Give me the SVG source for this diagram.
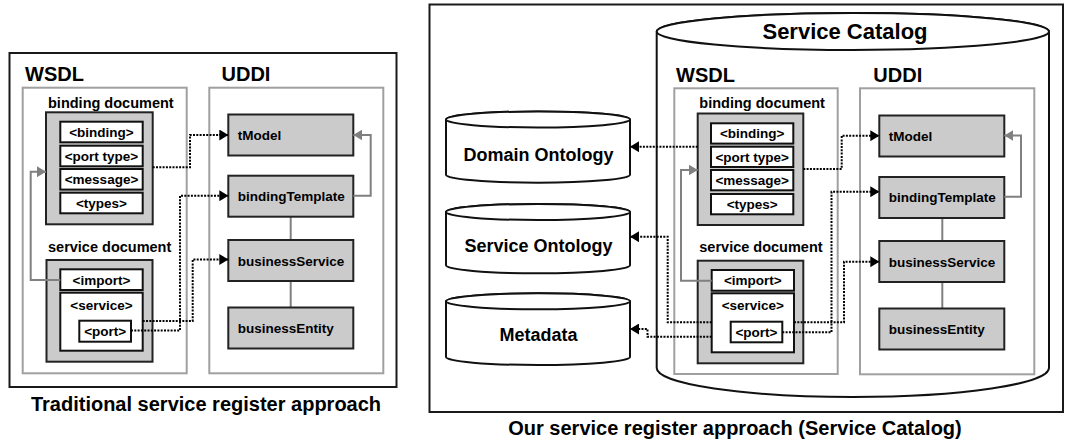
<svg xmlns="http://www.w3.org/2000/svg" width="1065" height="444" viewBox="0 0 1065 444">
<defs>
<style>
text{font-family:"Liberation Sans",Arial,sans-serif;font-weight:bold;fill:#000}
.t20{font-size:20px}
.t22{font-size:22px}
.t18{font-size:18px}
.t145{font-size:14.5px}
.t135{font-size:13.5px}
.mid{text-anchor:middle}
.frame{fill:none;stroke:#1a1a1a;stroke-width:2}
.grp{fill:none;stroke:#a0a0a0;stroke-width:2}
.doc{fill:#cbcbcb;stroke:#222;stroke-width:2}
.item{fill:#fff;stroke:#111;stroke-width:2}
.ud{fill:#cbcbcb;stroke:#222;stroke-width:2}
.cyl{fill:#fff;stroke:#111;stroke-width:2}
.dot{fill:none;stroke:#000;stroke-width:2;stroke-dasharray:2 1.3;marker-end:url(#ab)}
.gl{fill:none;stroke:#808080;stroke-width:2}
.ga{marker-end:url(#ag)}
</style>
<marker id="ab" markerUnits="userSpaceOnUse" markerWidth="9" markerHeight="11" refX="9" refY="5.5" orient="auto"><path d="M0,0 L9,5.5 L0,11 z" fill="#000"/></marker>
<marker id="ag" markerUnits="userSpaceOnUse" markerWidth="9" markerHeight="11" refX="9" refY="5.5" orient="auto"><path d="M0,0 L9,5.5 L0,11 z" fill="#808080"/></marker>
</defs>

<!-- LEFT PANEL -->
<g id="left-panel">
<rect class="frame" x="9.5" y="53" width="387" height="334"/>
<text class="t20" x="206" y="411" text-anchor="middle">Traditional service register approach</text>
</g>

<g id="wsdl-left">
<rect class="grp" x="22.7" y="87.7" width="164" height="285.6"/>
<text class="t20" x="25" y="80.5">WSDL</text>
</g>
<g id="uddi-left">
<rect class="grp" x="209.3" y="87.7" width="174" height="285.6"/>
<text class="t20" x="221.5" y="80.5">UDDI</text>
</g>

<g id="binding-doc-left">
<text class="t145" x="48" y="108">binding document</text>
<rect class="doc" x="46" y="112.3" width="106.7" height="112"/>
<rect class="item" x="60.3" y="121.7" width="82.4" height="20.6"/>
<text class="t135 mid" x="101.5" y="136.7">&lt;binding&gt;</text>
<rect class="item" x="60.3" y="145.7" width="82.4" height="20.6"/>
<text class="t135 mid" x="101.5" y="160.7">&lt;port type&gt;</text>
<rect class="item" x="60.3" y="169" width="82.4" height="20.6"/>
<text class="t135 mid" x="101.5" y="184">&lt;message&gt;</text>
<rect class="item" x="60.3" y="192.7" width="82.4" height="20.6"/>
<text class="t135 mid" x="101.5" y="207.7">&lt;types&gt;</text>
</g>

<g id="service-doc-left">
<text class="t145" x="48" y="251.5">service document</text>
<rect class="doc" x="46.5" y="260" width="106" height="101.7"/>
<rect class="item" x="60.3" y="269.3" width="82.4" height="20.7"/>
<text class="t135 mid" x="101.5" y="284.5">&lt;import&gt;</text>
<rect class="item" x="60.3" y="292.7" width="82.4" height="58"/>
<text class="t135 mid" x="101.5" y="309.5">&lt;service&gt;</text>
<rect class="item" x="79.3" y="320.7" width="51.7" height="21"/>
<text class="t135 mid" x="105.2" y="336">&lt;port&gt;</text>
</g>

<g id="uddi-boxes-left">
<line class="gl" x1="290.7" y1="216.7" x2="290.7" y2="307.5"/>
<g id="tmodel-left"><rect class="ud" x="228.3" y="114.5" width="125" height="41"/><text class="t135" x="237.7" y="140">tModel</text></g>
<g id="bindingtemplate-left"><rect class="ud" x="228.3" y="175.7" width="125" height="41"/><text class="t135" x="237.7" y="201">bindingTemplate</text></g>
<g id="businessservice-left"><rect class="ud" x="228.3" y="240" width="125" height="41"/><text class="t135" x="237.7" y="265.5">businessService</text></g>
<g id="businessentity-left"><rect class="ud" x="228.3" y="307.5" width="125" height="41"/><text class="t135" x="237.7" y="332.8">businessEntity</text></g>
</g>

<!-- RIGHT PANEL -->
<g id="right-panel">
<rect class="frame" x="429.5" y="4.5" width="633.5" height="407.5"/>
<text class="t20" x="735" y="435" text-anchor="middle">Our service register approach (Service Catalog)</text>
</g>

<g id="domain-ontology">
<path class="cyl" d="M446,119.5 V174.7 A92,8 0 0 0 630,174.7 V119.5 A92,8 0 0 0 446,119.5 Z"/>
<ellipse class="cyl" cx="538" cy="119.5" rx="92" ry="8"/>
<text class="t18 mid" x="538.5" y="160.5">Domain Ontology</text>
</g>
<g id="service-ontology">
<path class="cyl" d="M446,212 V265.3 A92,8 0 0 0 630,265.3 V212 A92,8 0 0 0 446,212 Z"/>
<ellipse class="cyl" cx="538" cy="212" rx="92" ry="8"/>
<text class="t18 mid" x="538.5" y="251.7">Service Ontology</text>
</g>
<g id="metadata">
<path class="cyl" d="M446,301.3 V357 A92,8 0 0 0 630,357 V301.3 A92,8 0 0 0 446,301.3 Z"/>
<ellipse class="cyl" cx="538" cy="301.3" rx="92" ry="8"/>
<text class="t18 mid" x="538.5" y="341">Metadata</text>
</g>

<g id="service-catalog">
<path class="cyl" d="M656.7,31.5 V368 A196.15,29 0 0 0 1049,368 V31.5 A196.15,18.5 0 0 0 656.7,31.5 Z"/>
<ellipse class="cyl" cx="852.85" cy="31.5" rx="196.15" ry="18.5"/>
<text class="t22 mid" x="845" y="38.5">Service Catalog</text>
</g>

<g id="wsdl-right">
<rect class="grp" x="674.3" y="88.3" width="163.4" height="285.7"/>
<text class="t20" x="676" y="81.5">WSDL</text>
</g>
<g id="uddi-right">
<rect class="grp" x="860" y="88.3" width="174.3" height="286"/>
<text class="t20" x="873.3" y="81.5">UDDI</text>
</g>

<g id="binding-doc-right">
<text class="t145" x="699.3" y="108.3">binding document</text>
<rect class="doc" x="697.7" y="113.5" width="105.6" height="111.5"/>
<rect class="item" x="711" y="123.3" width="82.3" height="20.3"/>
<text class="t135 mid" x="752.2" y="138.2">&lt;binding&gt;</text>
<rect class="item" x="711" y="146.7" width="82.3" height="20.3"/>
<text class="t135 mid" x="752.2" y="161.6">&lt;port type&gt;</text>
<rect class="item" x="711" y="170" width="82.3" height="20.3"/>
<text class="t135 mid" x="752.2" y="184.9">&lt;message&gt;</text>
<rect class="item" x="711" y="194" width="82.3" height="20.3"/>
<text class="t135 mid" x="752.2" y="208.9">&lt;types&gt;</text>
</g>

<g id="service-doc-right">
<text class="t145" x="699.3" y="251.7">service document</text>
<rect class="doc" x="697.7" y="260.7" width="105.6" height="102.6"/>
<rect class="item" x="711.7" y="270" width="82.3" height="20.7"/>
<text class="t135 mid" x="752.8" y="285.2">&lt;import&gt;</text>
<rect class="item" x="711.7" y="293.3" width="82.3" height="59"/>
<text class="t135 mid" x="752.8" y="310.3">&lt;service&gt;</text>
<rect class="item" x="730.7" y="321.7" width="51.6" height="20.6"/>
<text class="t135 mid" x="756.5" y="336.8">&lt;port&gt;</text>
</g>

<g id="uddi-boxes-right">
<line class="gl" x1="942.3" y1="218" x2="942.3" y2="308.5"/>
<g id="tmodel-right"><rect class="ud" x="879.3" y="115.5" width="125" height="41"/><text class="t135" x="888.7" y="141">tModel</text></g>
<g id="bindingtemplate-right"><rect class="ud" x="879.3" y="177" width="125" height="41"/><text class="t135" x="888.7" y="202.3">bindingTemplate</text></g>
<g id="businessservice-right"><rect class="ud" x="879.3" y="241" width="125" height="41"/><text class="t135" x="888.7" y="266.5">businessService</text></g>
<g id="businessentity-right"><rect class="ud" x="879.3" y="308.5" width="125" height="41"/><text class="t135" x="888.7" y="333.8">businessEntity</text></g>
</g>

<!-- CONNECTORS -->
<g id="connectors">
<path class="gl ga" d="M60.3,280 H30.7 V171.7 H46"/>
<path class="gl ga" d="M353.3,195.7 H370.7 V135 H353.3"/>
<path class="dot" d="M152.7,167.3 H190 V135 H228.3"/>
<path class="dot" d="M131,330.5 H180 V195.7 H228.3"/>
<path class="dot" d="M142.7,321 H192.7 V259.5 H228.3"/>

<path class="gl ga" d="M711.7,280.7 H681 V170 H697.7"/>
<path class="gl ga" d="M1004.3,196.7 H1021 V135.5 H1004.3"/>
<path class="dot" d="M803.3,169 H841.7 V135.7 H879.3"/>
<path class="dot" d="M782.3,332.3 H831.5 V191.7 H879.3"/>
<path class="dot" d="M794,322.3 H844 V261.7 H879.3"/>
<path class="dot" d="M697.7,146.7 H630"/>
<path class="dot" d="M711.7,322.3 H667.7 V236.7 H630"/>
<path class="dot" d="M711.7,336.7 H647.5 V329 H630"/>
</g>
</svg>
